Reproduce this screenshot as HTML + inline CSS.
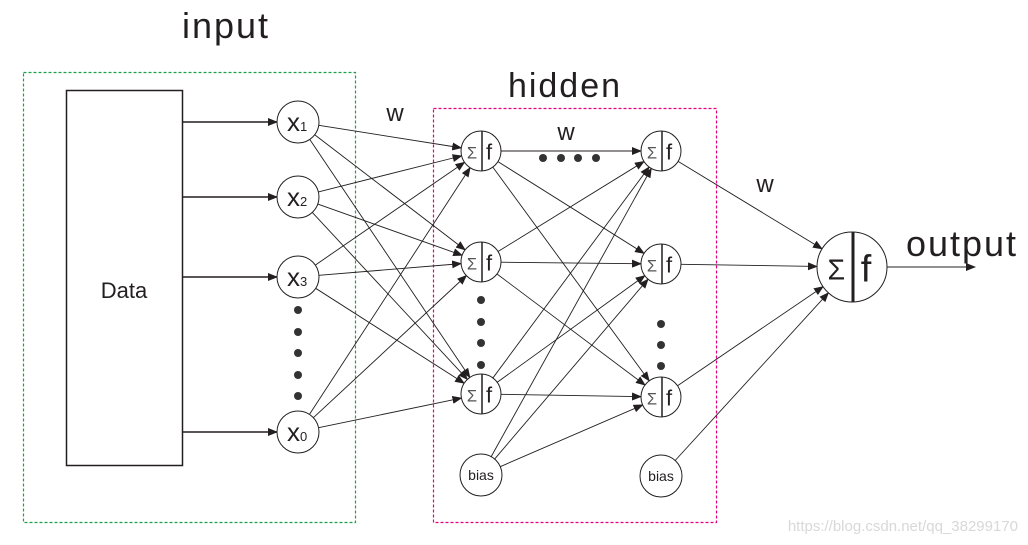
<!DOCTYPE html>
<html><head><meta charset="utf-8"><style>
html,body{margin:0;padding:0;background:#fff;}
svg{display:block;font-family:"Liberation Sans",Arial,sans-serif;}
</style></head><body>
<svg id="s" width="1028" height="545" viewBox="0 0 1028 545" xmlns="http://www.w3.org/2000/svg">
<defs><marker id="a" markerWidth="10" markerHeight="8" refX="9" refY="4" orient="auto" markerUnits="userSpaceOnUse"><path d="M0,0 L10,4 L0,8 Z" fill="#231f20"/></marker></defs>
<rect x="23.5" y="72.5" width="332" height="450" fill="none" stroke="#1aa04a" stroke-width="1.2" stroke-dasharray="3,2"/>
<rect x="433.5" y="108.5" width="283" height="414" fill="none" stroke="#e6007e" stroke-width="1.2" stroke-dasharray="3,2"/>
<rect x="66.5" y="90.5" width="116" height="375" fill="none" stroke="#231f20" stroke-width="1.5"/>
<text x="124" y="298" font-size="22" text-anchor="middle" fill="#231f20">Data</text>
<text x="226" y="38" font-size="36" text-anchor="middle" fill="#231f20" letter-spacing="2">input</text>
<text x="565" y="97" font-size="34" text-anchor="middle" fill="#231f20" letter-spacing="2">hidden</text>
<text x="962" y="256" font-size="36" text-anchor="middle" fill="#231f20" letter-spacing="2">output</text>
<text x="395" y="121" font-size="24" text-anchor="middle" fill="#231f20">w</text>
<text x="566" y="140" font-size="24" text-anchor="middle" fill="#231f20">w</text>
<text x="765" y="192" font-size="24" text-anchor="middle" fill="#231f20">w</text>
<text x="1018" y="531" font-size="15" text-anchor="end" fill="#d8d8d8">https://blog.csdn.net/qq_38299170</text>
<g id="g"></g>
</svg>
<script>
var g=document.getElementById('g'),NS='http://www.w3.org/2000/svg';
function el(t,a,txt){var e=document.createElementNS(NS,t);for(var k in a)e.setAttribute(k,a[k]);if(txt)e.textContent=txt;g.appendChild(e);return e;}
var L0=[[298,122],[298,197],[298,277],[298,432]],r0=21;
var L1=[[481,151],[481,262],[481,394]],r1=20;
var L2=[[661,151],[661,264],[661,397]];
var B1=[481,475],B2=[661,476],rb=21;
var O=[852,267],ro=35;
function line(p,rp,q,rq){var dx=q[0]-p[0],dy=q[1]-p[1],d=Math.hypot(dx,dy);
el('line',{x1:p[0]+dx/d*rp,y1:p[1]+dy/d*rp,x2:q[0]-dx/d*rq,y2:q[1]-dy/d*rq,stroke:'#231f20','stroke-width':0.9,'marker-end':'url(#a)'});}
L0.forEach(function(p){el('line',{x1:182,y1:p[1],x2:p[0]-r0,y2:p[1],stroke:'#231f20','stroke-width':1.5,'marker-end':'url(#a)'});L1.forEach(function(q){line(p,r0,q,r1);});});
L1.concat([B1]).forEach(function(p,i){L2.forEach(function(q){line(p,i==3?rb:r1,q,r1);});});
L2.concat([B2]).forEach(function(p,i){line(p,i==3?rb:r1,O,ro);});
el('line',{x1:O[0]+ro,y1:O[1],x2:975,y2:O[1],stroke:'#231f20','stroke-width':1,'marker-end':'url(#a)'});
var names=['1','2','3','0'];
L0.forEach(function(p,i){el('circle',{cx:p[0],cy:p[1],r:r0,fill:'#fff',stroke:'#231f20','stroke-width':1});
var t=el('text',{x:p[0]-11,y:p[1]+9,'font-size':26,fill:'#231f20'},'x');var s=el('tspan',{'font-size':13},names[i]);t.appendChild(s);});
function sf(p,r,fs,lw,sc){el('circle',{cx:p[0],cy:p[1],r:r,fill:'#fff',stroke:'#231f20','stroke-width':1});
el('line',{x1:p[0]+1,y1:p[1]-r,x2:p[0]+1,y2:p[1]+r,stroke:'#231f20','stroke-width':lw});
el('text',{x:p[0]-r*0.45,y:p[1]+fs*0.33,'font-size':fs*0.75,'text-anchor':'middle',fill:sc},'\u03A3');
el('text',{x:p[0]+r*0.4,y:p[1]+fs*0.38,'font-size':fs,'text-anchor':'middle',fill:'#231f20'},'f');}
L1.concat(L2).forEach(function(p){sf(p,r1,22,1.5,'#555');});
sf(O,ro,38,3,'#231f20');
[B1,B2].forEach(function(p){el('circle',{cx:p[0],cy:p[1],r:rb,fill:'#fff',stroke:'#231f20','stroke-width':1});el('text',{x:p[0],y:p[1]+5,'font-size':14,'text-anchor':'middle',fill:'#231f20'},'bias');});
function dot(x,y){el('circle',{cx:x,cy:y,r:4,fill:'#333'});}
[310,332,353,375,396].forEach(function(y){dot(298,y);});
[300,322,343,365].forEach(function(y){dot(481,y);});
[324,345,366].forEach(function(y){dot(661,y);});
[543,561,578,596].forEach(function(x){dot(x,158);});
</script>
</body></html>
